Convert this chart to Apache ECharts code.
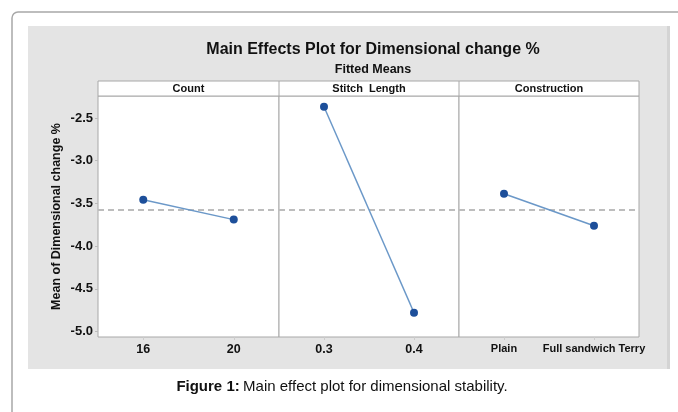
<!DOCTYPE html>
<html>
<head>
<meta charset="utf-8">
<script src="https://cdn.jsdelivr.net/npm/echarts@6/dist/echarts.min.js"></script>
<style>html,body{margin:0;padding:0;background:#fff}#c{width:678px;height:412px}</style>
</head>
<body>
<div id="c"></div>
<script>
const countCats = ['16', '20'];
const countVals = [-3.458, -3.69];
const stitchCats = ['0.3', '0.4'];
const stitchVals = [-2.368, -4.78];
const constCats = ['Plain', 'Full sandwich Terry'];
const constVals = [-3.388, -3.762];
const yTicks = [-5.0, -4.5, -4.0, -3.5, -3.0, -2.5];
const grandMean = -3.573;
const panelNames = ['Count', 'Stitch  Length', 'Construction'];

const FONT = '"Liberation Sans", Arial, sans-serif';
const chart = echarts.init(document.getElementById('c'), null, {renderer: 'canvas'});

const gridTop = 96, gridH = 241;
const grids = [
  {left: 98, width: 181},
  {left: 279, width: 180},
  {left: 459, width: 180}
];
const cats = [countCats, stitchCats, constCats];
const vals = [countVals, stitchVals, constVals];
const xFont = [12.5, 12.5, 11];

const option = {
  animation: false,
  backgroundColor: '#ffffff',
  title: [
    {text: 'Main Effects Plot for Dimensional change %', left: 368, top: 37, textAlign: 'center',
     textStyle: {fontFamily: FONT, fontSize: 16, fontWeight: 'bold', color: '#111'}},
    {text: 'Fitted Means', left: 368, top: 58, textAlign: 'center',
     textStyle: {fontFamily: FONT, fontSize: 12.5, fontWeight: 'bold', color: '#111'}}
  ],
  graphic: [
    {type: 'rect', z: -10, silent: true, shape: {x: 12, y: 12, width: 720, height: 450, r: 6},
     style: {fill: 'none', stroke: '#a8a8a8', lineWidth: 1.5}},
    {type: 'rect', z: -9, silent: true, shape: {x: 28, y: 26, width: 641, height: 343},
     style: {fill: '#e4e4e4'}},
    {type: 'rect', z: -8, silent: true, shape: {x: 667, y: 26, width: 3, height: 343},
     style: {fill: '#d4d4d4'}},
    {type: 'rect', z: 5, silent: true, shape: {x: 98, y: 81, width: 541, height: 15},
     style: {fill: '#ffffff', stroke: '#a8a8a8', lineWidth: 1}},
    {type: 'line', z: 6, silent: true, shape: {x1: 279, y1: 81, x2: 279, y2: 96},
     style: {stroke: '#a8a8a8', lineWidth: 1}},
    {type: 'line', z: 6, silent: true, shape: {x1: 459, y1: 81, x2: 459, y2: 96},
     style: {stroke: '#a8a8a8', lineWidth: 1}},
    ...panelNames.map((n, i) => ({
      type: 'text', z: 7, silent: true,
      x: grids[i].left + grids[i].width / 2, y: 89,
      style: {text: n, fontFamily: FONT, fontSize: 11, fontWeight: 'bold', fill: '#111',
              align: 'center', verticalAlign: 'middle'}
    })),
    {type: 'text', z: 7, silent: true, x: 342, y: 387,
     style: {
       text: '{b|Figure 1:} {n|Main effect plot for dimensional stability.}',
       align: 'center', verticalAlign: 'middle',
       rich: {
         b: {fontFamily: FONT, fontSize: 15, fontWeight: 'bold', fill: '#111'},
         n: {fontFamily: FONT, fontSize: 15, fill: '#111'}
       }
     }}
  ],
  grid: grids.map(g => ({
    left: g.left, width: g.width, top: gridTop, height: gridH,
    show: true, backgroundColor: '#ffffff', borderColor: '#a8a8a8', borderWidth: 1,
    containLabel: false
  })),
  xAxis: cats.map((c, i) => ({
    type: 'category', gridIndex: i, data: c, boundaryGap: true,
    axisLine: {show: false},
    axisTick: {show: true, alignWithLabel: true, length: 3, lineStyle: {color: '#cccccc'}},
    axisLabel: {margin: 6, fontFamily: FONT, fontSize: xFont[i], fontWeight: 'bold', color: '#111', interval: 0},
    splitLine: {show: false}
  })),
  yAxis: cats.map((c, i) => ({
    type: 'value', gridIndex: i, min: -5.064, max: -2.243,
    name: i === 0 ? 'Mean of Dimensional change %' : '',
    nameLocation: 'middle', nameGap: 35, nameRotate: 90,
    nameTextStyle: {fontFamily: FONT, fontSize: 12.5, fontWeight: 'bold', color: '#111'},
    axisLine: {show: false},
    axisTick: {show: i === 0, length: 3, customValues: yTicks, lineStyle: {color: '#bbbbbb'}},
    axisLabel: {show: i === 0, customValues: yTicks, margin: 5, fontFamily: FONT, fontSize: 13,
                fontWeight: 'bold', color: '#111', formatter: v => v.toFixed(1)},
    splitLine: {show: false}
  })),
  series: vals.map((v, i) => ({
    type: 'line', xAxisIndex: i, yAxisIndex: i, data: v,
    symbol: 'circle', symbolSize: 8,
    lineStyle: {color: '#6b98c8', width: 1.5},
    itemStyle: {color: '#1d4f9a'},
    z: 10,
    markLine: {
      silent: true, symbol: 'none', label: {show: false},
      lineStyle: {color: '#bdbdbd', type: [6, 4], width: 1.8},
      data: [{yAxis: grandMean}]
    }
  }))
};
chart.setOption(option);
</script>
</body>
</html>
